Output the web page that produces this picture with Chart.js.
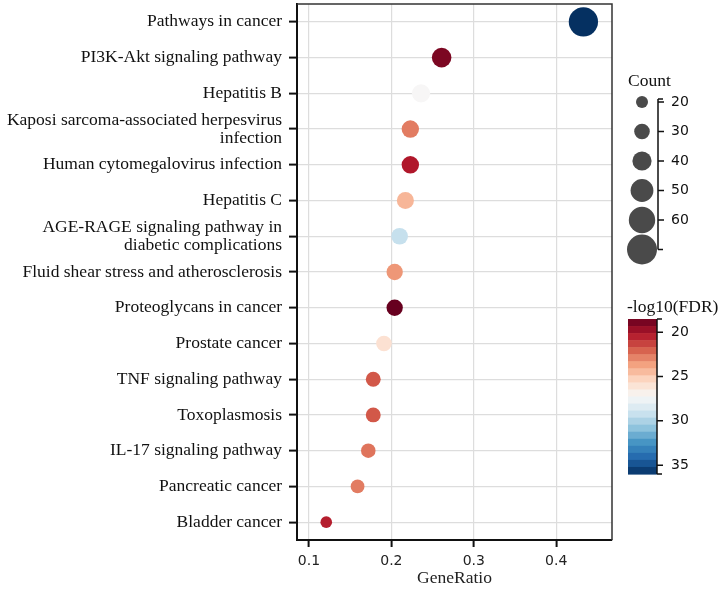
<!DOCTYPE html>
<html>
<head>
<meta charset="utf-8">
<script src="https://cdn.jsdelivr.net/npm/chart.js@4/dist/chart.umd.min.js"></script>
<style>
  html, body { margin: 0; padding: 0; background: #ffffff; }
  canvas { display: block; }
</style>
</head>
<body>
<canvas id="c" width="724" height="589"></canvas>
<script>
// ---------- data ----------
const categories = [
  "Pathways in cancer",
  "PI3K-Akt signaling pathway",
  "Hepatitis B",
  ["Kaposi sarcoma-associated herpesvirus", "infection"],
  "Human cytomegalovirus infection",
  "Hepatitis C",
  ["AGE-RAGE signaling pathway in", "diabetic complications"],
  "Fluid shear stress and atherosclerosis",
  "Proteoglycans in cancer",
  "Prostate cancer",
  "TNF signaling pathway",
  "Toxoplasmosis",
  "IL-17 signaling pathway",
  "Pancreatic cancer",
  "Bladder cancer"
];
const geneRatio = [0.433, 0.261, 0.236, 0.223, 0.223, 0.217, 0.210, 0.204, 0.204, 0.191, 0.178, 0.178, 0.172, 0.159, 0.121];
const counts    = [68, 41, 37, 35, 35, 34, 33, 32, 32, 30, 28, 28, 27, 25, 19];
const negLog10FDR = [36.0, 19.0, 27.2, 22.7, 20.2, 24.3, 29.3, 23.4, 18.5, 25.9, 21.8, 21.8, 22.5, 22.7, 20.4];
const xTicks = [0.1, 0.2, 0.3, 0.4];
const countLegend = [20, 30, 40, 50, 60, 70];
const countTicks = [20, 30, 40, 50, 60];
const fdrTicks = [20, 25, 30, 35];

// ---------- styling helpers ----------
const FDR_MIN = 18.5, FDR_MAX = 36.0;
const rdbu = ["#67001f","#b2182b","#d6604d","#f4a582","#fddbc7","#f7f7f7","#d1e5f0","#92c5de","#4393c3","#2166ac","#053061"];
function hex2rgb(h){ return [parseInt(h.substr(1,2),16), parseInt(h.substr(3,2),16), parseInt(h.substr(5,2),16)]; }
function colorAt(t){
  t = Math.max(0, Math.min(1, t));
  const p = t * (rdbu.length - 1);
  const i = Math.min(rdbu.length - 2, Math.floor(p));
  const f = p - i;
  const a = hex2rgb(rdbu[i]), b = hex2rgb(rdbu[i+1]);
  return `rgb(${Math.round(a[0]+(b[0]-a[0])*f)},${Math.round(a[1]+(b[1]-a[1])*f)},${Math.round(a[2]+(b[2]-a[2])*f)})`;
}
function fdrColor(v){ return colorAt((v - FDR_MIN) / (FDR_MAX - FDR_MIN)); }
function sizeFor(c){ return 6 + (c - 20) * 0.18; }

const SERIF = "'Liberation Serif', 'Times New Roman', serif";
const SANS = "'DejaVu Sans', sans-serif";

const points = geneRatio.map((g, i) => ({ x: g, y: i, r: sizeFor(counts[i]) }));

// ---------- legend / frame plugin ----------
const legendPlugin = {
  id: 'sideLegends',
  afterDraw(chart) {
    const ctx = chart.ctx;
    const ca = chart.chartArea;
    ctx.save();
    // top and right frame
    ctx.strokeStyle = '#333333';
    ctx.lineWidth = 1.5;
    ctx.beginPath();
    ctx.moveTo(ca.left, ca.top);
    ctx.lineTo(ca.right, ca.top);
    ctx.lineTo(ca.right, ca.bottom);
    ctx.stroke();

    const L = ca.right + 16;       // legend left
    // ---- Count legend ----
    ctx.fillStyle = '#111';
    ctx.font = '17.5px ' + SERIF;
    ctx.textBaseline = 'middle';
    ctx.textAlign = 'left';
    ctx.fillText('Count', L, 81);
    const cy0 = 102, cStep = 2.95; // px per count unit
    const cyOf = c => cy0 + (c - 20) * cStep;
    const cx = L + 14;
    ctx.fillStyle = '#4a4a4a';
    countLegend.forEach(c => {
      ctx.beginPath();
      ctx.arc(cx, cyOf(c), sizeFor(c), 0, Math.PI * 2);
      ctx.fill();
    });
    const axX = L + 30;
    ctx.strokeStyle = '#111';
    ctx.lineWidth = 1.5;
    ctx.beginPath();
    ctx.moveTo(axX, cyOf(19)); ctx.lineTo(axX, cyOf(70));
    ctx.moveTo(axX, cyOf(19)); ctx.lineTo(axX + 5, cyOf(19));
    ctx.moveTo(axX, cyOf(70)); ctx.lineTo(axX + 5, cyOf(70));
    countTicks.forEach(c => { ctx.moveTo(axX, cyOf(c)); ctx.lineTo(axX + 6, cyOf(c)); });
    ctx.stroke();
    ctx.fillStyle = '#111';
    ctx.font = '14px ' + SANS;
    countTicks.forEach(c => ctx.fillText(String(c), axX + 13, cyOf(c)));

    // ---- FDR colorbar ----
    ctx.font = '17.5px ' + SERIF;
    ctx.fillText('-log10(FDR)', L - 1, 307);
    const barTop = 319, barBot = 474, barL = L, barR = L + 29;
    const nb = 22;
    const bh = (barBot - barTop) / nb;
    for (let k = 0; k < nb; k++) {
      ctx.fillStyle = colorAt((k + 0.5) / nb);
      ctx.fillRect(barL, barTop + k * bh, barR - barL, bh + 0.6);
    }
    const fyOf = v => barTop + (v - FDR_MIN) / (FDR_MAX - FDR_MIN) * (barBot - barTop);
    ctx.strokeStyle = '#111';
    ctx.lineWidth = 1.5;
    ctx.beginPath();
    ctx.moveTo(barR, barTop); ctx.lineTo(barR, barBot);
    ctx.moveTo(barR, barTop); ctx.lineTo(barR + 5, barTop);
    ctx.moveTo(barR, barBot); ctx.lineTo(barR + 5, barBot);
    fdrTicks.forEach(v => { ctx.moveTo(barR, fyOf(v)); ctx.lineTo(barR + 6, fyOf(v)); });
    ctx.stroke();
    ctx.fillStyle = '#111';
    ctx.font = '14px ' + SANS;
    fdrTicks.forEach(v => ctx.fillText(String(v), barR + 14, fyOf(v)));
    ctx.restore();
  }
};

new Chart(document.getElementById('c'), {
  type: 'bubble',
  data: {
    datasets: [{
      data: points,
      backgroundColor: negLog10FDR.map(fdrColor),
      borderWidth: 0,
      hoverBorderWidth: 0,
      clip: false
    }]
  },
  options: {
    responsive: false,
    animation: false,
    events: [],
    layout: { autoPadding: false, padding: { top: 4, right: 112, left: 0, bottom: 0 } },
    plugins: { legend: { display: false }, tooltip: { enabled: false } },
    scales: {
      x: {
        type: 'linear',
        min: 0.0855,
        max: 0.4677,
        afterBuildTicks: s => { s.ticks = xTicks.map(v => ({ value: v })); },
        afterFit: s => { s.height = 49; s.paddingLeft = 0; s.paddingRight = 0; },
        grid: { color: '#dddddd', lineWidth: 1.2, tickColor: '#111', tickWidth: 2, tickLength: 7, drawOnChartArea: true },
        border: { color: '#111', width: 2 },
        ticks: { color: '#222', font: { family: SANS, size: 14 }, padding: 6, callback: v => String(v) },
        title: { display: true, text: 'GeneRatio', color: '#222', font: { family: SERIF, size: 17.5 }, padding: { top: 0, bottom: 0 } }
      },
      y: {
        type: 'category',
        labels: categories,
        offset: true,
        afterFit: s => { s.width = 297; s.paddingTop = 0; s.paddingBottom = 0; },
        grid: { offset: false, color: '#dddddd', lineWidth: 1.2, tickColor: '#111', tickWidth: 2, tickLength: 8 },
        border: { color: '#111', width: 2 },
        ticks: { color: '#111', font: { family: SERIF, size: 17.5, lineHeight: 1.03 }, padding: 7, autoSkip: false }
      }
    }
  },
  plugins: [legendPlugin]
});
</script>
</body>
</html>
